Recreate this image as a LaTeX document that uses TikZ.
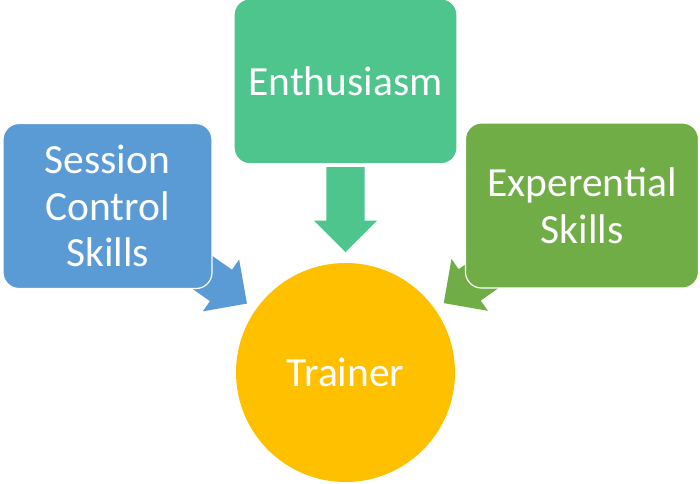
\documentclass[tikz,border=0pt]{standalone}
\usepackage{fontspec}
\setmainfont{Carlito}
\usetikzlibrary{positioning,calc,shapes.arrows}
\pgfdeclarelayer{background}
\pgfsetlayers{background,main}
\definecolor{sessionblue}{RGB}{91,155,213}
\definecolor{enthgreen}{RGB}{78,197,141}
\definecolor{expgreen}{RGB}{112,173,71}
\definecolor{trainergold}{RGB}{255,192,0}
\tikzset{
  % Specifications for style of nodes:
  base/.style = {
    draw=white,
    line width=1.2pt,
    text=white,
    align=center,
    font=\fontsize{41.5}{46.7}\selectfont
  },
  skill/.style = {
    base,
    rectangle,
    rounded corners=16pt,
    minimum height=165pt
  },
  hub/.style = {
    base,
    circle,
    draw=none,
    minimum size=219pt,
    fill=trainergold
  },
  feed/.style = {
    single arrow,
    single arrow head extend=12.5pt,
    single arrow head indent=0pt,
    minimum height=85pt,
    inner xsep=0pt,
    inner ysep=19pt,
    anchor=tip
  },
}

\begin{document}
\begin{tikzpicture}[x=1pt, y=1pt]
    \useasboundingbox (0,0) rectangle (700,483);
    % Specification of nodes (position, etc.)
    \node[hub] (trainer) at (345.5, 110.5) {Trainer};
    \node[skill, fill=enthgreen, minimum width=223pt, above=98pt of trainer] (enthusiasm) {Enthusiasm};
    \node[skill, fill=sessionblue, minimum width=209pt] (session) at (107.5, 277) {Session\\Control\\Skills};
    \node[skill, fill=expgreen, minimum width=233pt] (experential) at (582, 277.5) {Experential\\Skills};
    % Arrows behind the boxes
    \begin{pgfonlayer}{background}
      \node[feed, fill=sessionblue, rotate=-34.97] (arrow0) at ($(trainer.center)!120pt!(session.center)$) {};
      \node[feed, fill=enthgreen, rotate=-90] (arrow1) at ($(trainer.center)!120pt!(enthusiasm.center)$) {};
      \node[feed, fill=expgreen, rotate=-144.9] (arrow2) at ($(trainer.center)!120pt!(experential.center)$) {};
    \end{pgfonlayer}
  \end{tikzpicture}
\end{document}
